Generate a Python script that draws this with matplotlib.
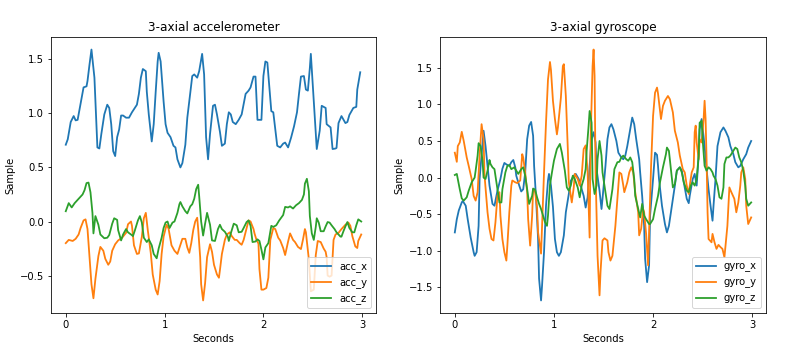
import matplotlib
matplotlib.use("Agg")
import matplotlib.pyplot as plt

# ---------------- accelerometer ----------------
acc_x_t = [0.00,0.02,0.05,0.08,0.10,0.12,0.14,0.17,0.18,0.21,0.22,0.24,0.26,0.29,0.32,0.34,0.36,0.39,0.42,0.44,
           0.46,0.48,0.50,0.52,0.54,0.56,0.58,0.61,0.64,0.67,0.72,0.74,0.76,0.78,0.81,0.82,0.84,0.87,0.89,0.91,
           0.93,0.94,0.96,0.99,1.01,1.03,1.06,1.09,1.11,1.13,1.16,1.18,1.21,1.23,1.26,1.28,1.30,1.33,1.35,1.38,
           1.40,1.42,1.44,1.46,1.49,1.51,1.53,1.56,1.58,1.61,1.63,1.65,1.67,1.69,1.72,1.75,1.78,1.82,1.85,1.87,
           1.90,1.92,1.94,1.98,2.00,2.02,2.04,2.08,2.10,2.14,2.17,2.20,2.22,2.25,2.28,2.31,2.34,2.36,2.38,2.41,
           2.43,2.45,2.47,2.48,2.51,2.54,2.57,2.59,2.63,2.64,2.68,2.70,2.73,2.74,2.76,2.79,2.83,2.85,2.87,2.91,
           2.94,2.95,2.98]
acc_x_v = [0.71,0.76,0.92,0.975,0.935,0.94,1.04,1.19,1.24,1.25,1.30,1.45,1.59,1.33,0.685,0.675,0.81,0.99,1.08,1.05,
           0.90,0.65,0.605,0.78,0.85,0.98,0.98,0.96,0.96,1.01,1.08,1.18,1.33,1.41,1.39,1.20,0.99,0.74,0.90,1.20,
           1.48,1.56,1.48,1.11,0.90,0.82,0.78,0.70,0.685,0.575,0.50,0.54,0.71,0.96,1.19,1.345,1.36,1.33,1.39,1.55,
           1.36,0.78,0.575,0.81,1.07,1.08,0.99,0.83,0.70,0.72,0.90,1.01,0.99,0.92,0.90,0.94,0.99,1.18,1.21,1.24,
           1.34,1.34,0.94,0.94,1.345,1.48,1.47,1.02,1.01,0.70,0.685,0.72,0.73,0.685,0.775,0.88,1.01,1.18,1.34,1.345,
           1.22,1.21,1.42,1.55,1.11,0.67,0.84,1.07,1.05,0.90,0.87,0.67,0.675,0.68,0.91,0.975,0.91,0.92,0.985,1.05,
           1.06,1.22,1.38]

acc_y_t = [0.00,0.03,0.07,0.10,0.13,0.15,0.18,0.20,0.22,0.24,0.26,0.28,0.30,0.33,0.35,0.38,0.40,0.43,0.45,0.47,
           0.50,0.53,0.57,0.61,0.63,0.66,0.67,0.69,0.72,0.74,0.77,0.79,0.81,0.83,0.86,0.88,0.91,0.93,0.95,0.97,
           0.99,1.02,1.04,1.07,1.10,1.13,1.15,1.18,1.21,1.23,1.25,1.27,1.29,1.31,1.33,1.34,1.36,1.37,1.39,1.41,
           1.43,1.46,1.48,1.50,1.53,1.55,1.56,1.58,1.61,1.63,1.66,1.68,1.71,1.73,1.76,1.78,1.80,1.83,1.85,1.87,
           1.90,1.91,1.93,1.95,1.96,1.98,2.00,2.03,2.05,2.07,2.10,2.12,2.15,2.17,2.20,2.22,2.25,2.27,2.30,2.32,
           2.35,2.38,2.40,2.42,2.43,2.46,2.48,2.51,2.53,2.55,2.58,2.61,2.63,2.64,2.65,2.67,2.69,2.71,2.73,2.76,
           2.79,2.83,2.86,2.88,2.90,2.93,2.95,2.96,2.99]
acc_y_v = [-0.20,-0.17,-0.18,-0.16,-0.12,-0.06,0.01,0.02,-0.07,-0.33,-0.58,-0.71,-0.53,-0.32,-0.235,-0.27,-0.345,-0.40,-0.37,-0.27,
           -0.21,-0.175,-0.15,-0.105,-0.025,0.00,-0.04,-0.22,-0.30,-0.295,-0.14,0.03,0.08,-0.08,-0.29,-0.49,-0.63,-0.675,-0.55,-0.30,
           -0.14,-0.03,-0.065,-0.22,-0.27,-0.30,-0.245,-0.16,-0.16,-0.24,-0.29,-0.20,-0.08,0.00,0.035,-0.07,-0.33,-0.58,-0.73,-0.57,
           -0.33,-0.21,-0.28,-0.40,-0.49,-0.52,-0.45,-0.30,-0.17,-0.12,-0.10,-0.135,-0.17,-0.17,-0.20,-0.215,-0.17,-0.06,0.01,0.00,
           -0.07,-0.11,-0.17,-0.205,-0.44,-0.63,-0.63,-0.615,-0.52,-0.17,-0.06,-0.07,-0.15,-0.175,-0.245,-0.31,-0.185,-0.11,-0.17,-0.19,
           -0.235,-0.255,-0.17,-0.07,-0.10,-0.35,-0.645,-0.63,-0.31,-0.18,-0.19,-0.25,-0.28,-0.33,-0.50,-0.51,-0.50,-0.17,-0.12,-0.105,
           -0.07,-0.03,-0.01,-0.04,-0.135,-0.23,-0.245,-0.18,-0.12]

acc_z_t = [0.00,0.03,0.06,0.09,0.13,0.17,0.19,0.21,0.23,0.25,0.27,0.28,0.30,0.33,0.35,0.39,0.42,0.44,0.47,0.49,
           0.52,0.53,0.56,0.58,0.61,0.63,0.66,0.68,0.70,0.73,0.75,0.77,0.79,0.82,0.84,0.87,0.89,0.92,0.94,0.97,
           0.99,1.01,1.03,1.05,1.08,1.10,1.13,1.15,1.16,1.18,1.21,1.23,1.26,1.28,1.30,1.32,1.34,1.35,1.37,1.39,
           1.41,1.43,1.46,1.48,1.51,1.54,1.56,1.58,1.61,1.64,1.65,1.67,1.70,1.73,1.75,1.78,1.80,1.83,1.85,1.87,
           1.89,1.92,1.94,1.96,1.98,2.00,2.02,2.05,2.08,2.10,2.13,2.16,2.20,2.22,2.25,2.27,2.30,2.33,2.36,2.39,
           2.41,2.42,2.44,2.46,2.47,2.49,2.51,2.53,2.54,2.56,2.58,2.61,2.63,2.65,2.67,2.69,2.72,2.74,2.78,2.79,
           2.81,2.83,2.85,2.87,2.90,2.92,2.94,2.96,2.99]
acc_z_v = [0.095,0.17,0.13,0.17,0.21,0.25,0.29,0.355,0.36,0.27,0.08,-0.11,0.05,-0.03,-0.12,-0.155,-0.15,-0.125,-0.02,0.03,
           0.015,-0.08,-0.175,-0.12,-0.07,-0.10,-0.12,-0.135,-0.08,0.01,0.05,-0.01,-0.15,-0.19,-0.165,-0.22,-0.30,-0.34,-0.25,-0.15,
           -0.06,-0.01,0.00,-0.06,-0.01,0.00,0.08,0.16,0.18,0.14,0.095,0.075,0.14,0.16,0.21,0.30,0.34,0.235,0.00,-0.13,
           -0.02,0.08,-0.03,-0.175,-0.18,-0.07,-0.03,-0.07,-0.095,-0.14,-0.18,-0.11,-0.02,-0.035,-0.10,-0.095,-0.06,-0.005,0.01,-0.04,
           -0.19,-0.185,-0.165,-0.18,-0.26,-0.35,-0.24,-0.20,-0.04,-0.05,-0.035,0.01,0.06,0.135,0.13,0.14,0.12,0.15,0.17,0.20,
           0.25,0.35,0.395,0.28,0.05,-0.11,-0.17,-0.05,0.03,-0.01,-0.09,-0.09,-0.045,-0.005,-0.01,-0.035,-0.07,-0.10,-0.14,-0.14,
           -0.09,-0.045,-0.005,-0.06,-0.10,-0.10,-0.035,0.02,0.00]

# ---------------- gyroscope ----------------
gyro_x_t = [0.00,0.02,0.04,0.07,0.08,0.11,0.13,0.16,0.19,0.20,0.22,0.24,0.25,0.28,0.29,0.31,0.33,0.35,0.38,0.40,
            0.43,0.46,0.48,0.50,0.52,0.55,0.57,0.59,0.61,0.62,0.65,0.67,0.69,0.71,0.73,0.75,0.77,0.79,0.80,0.82,
            0.84,0.85,0.87,0.88,0.90,0.92,0.94,0.95,0.97,0.99,1.01,1.03,1.05,1.07,1.10,1.12,1.15,1.17,1.20,1.22,
            1.25,1.27,1.30,1.32,1.34,1.36,1.38,1.40,1.42,1.43,1.46,1.48,1.49,1.52,1.54,1.56,1.58,1.60,1.63,1.65,
            1.68,1.70,1.72,1.74,1.77,1.79,1.81,1.83,1.86,1.87,1.89,1.91,1.92,1.94,1.96,1.97,2.00,2.02,2.04,2.05,
            2.06,2.09,2.12,2.14,2.16,2.19,2.22,2.24,2.27,2.29,2.31,2.34,2.36,2.37,2.40,2.42,2.44,2.46,2.47,2.49,
            2.50,2.52,2.54,2.56,2.58,2.60,2.61,2.63,2.65,2.68,2.71,2.73,2.76,2.78,2.81,2.83,2.86,2.88,2.91,2.94,
            2.96,2.99]
gyro_x_v = [-0.75,-0.57,-0.45,-0.34,-0.32,-0.385,-0.57,-0.82,-1.02,-1.07,-1.02,-0.66,-0.02,0.48,0.64,0.43,0.16,-0.11,-0.36,-0.385,
            -0.18,-0.02,0.12,0.20,0.18,0.16,0.21,0.24,0.14,0.025,-0.11,-0.19,-0.16,0.07,0.525,0.71,0.76,0.57,0.16,-0.29,
            -0.84,-1.38,-1.68,-1.48,-1.02,-0.385,-0.04,0.05,-0.11,-0.40,-0.84,-1.02,-1.07,-1.02,-0.79,-0.475,-0.225,-0.045,0.025,0.05,
            -0.02,-0.11,-0.25,-0.41,-0.27,0.16,0.525,0.62,0.48,0.115,-0.18,-0.43,-0.29,0.16,0.525,0.685,0.73,0.66,0.50,0.34,
            0.275,0.25,0.30,0.43,0.66,0.82,0.73,0.525,0.25,0.07,-0.25,-0.66,-1.11,-1.43,-1.20,-0.52,-0.02,0.34,0.31,0.16,
            -0.02,-0.385,-0.635,-0.75,-0.66,-0.385,-0.11,0.095,0.14,0.095,-0.065,-0.29,-0.35,-0.25,-0.02,0.05,-0.11,0.30,0.66,0.80,
            0.685,0.43,0.115,-0.16,-0.385,-0.59,-0.385,-0.02,0.43,0.62,0.685,0.64,0.55,0.43,0.32,0.21,0.14,0.16,0.25,0.32,
            0.41,0.50]

gyro_y_t = [0.00,0.02,0.03,0.05,0.07,0.09,0.12,0.14,0.17,0.19,0.21,0.23,0.25,0.27,0.29,0.30,0.33,0.35,0.37,0.39,
            0.41,0.43,0.45,0.46,0.48,0.50,0.52,0.53,0.55,0.57,0.58,0.61,0.63,0.66,0.68,0.69,0.71,0.73,0.74,0.76,
            0.78,0.79,0.81,0.83,0.84,0.87,0.88,0.90,0.92,0.94,0.96,0.97,0.99,1.01,1.03,1.04,1.07,1.09,1.10,1.12,
            1.14,1.15,1.18,1.20,1.21,1.24,1.26,1.28,1.30,1.32,1.34,1.36,1.37,1.39,1.40,1.41,1.42,1.44,1.46,1.47,
            1.49,1.51,1.54,1.55,1.57,1.59,1.60,1.62,1.64,1.66,1.68,1.70,1.71,1.74,1.76,1.78,1.80,1.82,1.85,1.86,
            1.88,1.90,1.91,1.93,1.95,1.96,1.98,2.00,2.02,2.04,2.05,2.06,2.08,2.10,2.12,2.15,2.17,2.20,2.22,2.25,
            2.27,2.30,2.32,2.34,2.36,2.37,2.39,2.41,2.42,2.43,2.44,2.46,2.47,2.49,2.51,2.52,2.53,2.54,2.55,2.56,
            2.59,2.60,2.62,2.64,2.66,2.68,2.70,2.72,2.73,2.75,2.77,2.79,2.82,2.84,2.86,2.88,2.89,2.91,2.93,2.94,
            2.96,2.99]
gyro_y_v = [0.34,0.215,0.43,0.48,0.625,0.50,0.275,0.16,-0.02,-0.25,-0.315,-0.20,0.30,0.73,0.525,0.025,-0.475,-0.70,-0.84,-0.86,
            -0.61,-0.25,-0.20,-0.52,-0.84,-1.02,-1.135,-0.93,-0.475,-0.11,-0.04,-0.065,-0.075,-0.04,0.32,0.275,0.07,-0.20,-0.57,-0.93,
            -0.52,-0.16,-0.20,-0.41,-0.75,-1.04,-0.66,0.07,0.75,1.34,1.58,1.47,1.05,0.80,0.59,0.685,1.09,1.525,1.55,1.115,
            0.39,-0.065,-0.34,-0.135,0.05,-0.02,-0.11,0.025,0.39,0.44,0.07,-0.82,0.525,1.525,1.75,1.39,0.07,-1.07,-1.61,-1.29,
            -0.86,-0.83,-0.86,-1.02,-1.135,-1.07,-0.93,-0.66,-0.29,0.07,0.05,-0.11,-0.20,-0.065,0.07,0.14,0.07,-0.20,-0.475,-0.79,
            -0.70,-0.43,-0.475,-0.77,-1.20,-0.75,0.16,0.84,1.16,1.23,1.15,1.03,0.80,0.98,1.05,1.115,1.07,0.89,0.64,0.48,
            0.30,0.115,0.07,-0.11,-0.225,-0.11,0.07,0.14,0.62,0.71,0.48,0.25,0.525,0.48,0.80,1.05,0.80,0.25,-0.475,-0.84,
            -0.885,-0.77,-0.885,-0.975,-0.92,-0.95,-0.975,-1.09,-0.95,-0.66,-0.135,-0.20,-0.29,-0.475,-0.34,-0.11,0.07,0.14,-0.02,-0.385,
            -0.635,-0.545]

gyro_z_t = [0.00,0.02,0.03,0.05,0.07,0.09,0.12,0.14,0.17,0.20,0.21,0.23,0.24,0.26,0.28,0.29,0.31,0.33,0.35,0.36,
            0.38,0.40,0.41,0.43,0.45,0.47,0.48,0.51,0.53,0.55,0.57,0.60,0.62,0.64,0.67,0.69,0.71,0.73,0.75,0.78,
            0.79,0.81,0.83,0.85,0.87,0.89,0.91,0.93,0.94,0.96,0.98,1.00,1.03,1.06,1.08,1.11,1.13,1.15,1.17,1.19,
            1.21,1.24,1.26,1.28,1.30,1.32,1.33,1.35,1.36,1.38,1.39,1.41,1.43,1.44,1.46,1.48,1.49,1.52,1.54,1.56,
            1.59,1.61,1.64,1.66,1.68,1.70,1.73,1.75,1.77,1.79,1.81,1.82,1.85,1.87,1.89,1.91,1.93,1.96,1.97,2.00,
            2.02,2.05,2.07,2.10,2.13,2.14,2.16,2.18,2.20,2.22,2.24,2.27,2.29,2.31,2.34,2.36,2.38,2.40,2.42,2.44,
            2.46,2.47,2.49,2.50,2.52,2.54,2.56,2.58,2.60,2.61,2.63,2.65,2.67,2.69,2.71,2.72,2.74,2.76,2.78,2.81,
            2.83,2.85,2.87,2.89,2.91,2.93,2.94,2.96,2.99]
gyro_z_v = [0.035,0.05,-0.02,-0.16,-0.285,-0.315,-0.27,-0.18,-0.065,0.00,0.095,0.30,0.47,0.43,0.23,0.00,-0.02,0.095,0.24,0.185,
            0.14,0.115,0.025,-0.16,-0.34,-0.34,-0.16,0.07,0.16,0.17,0.115,0.14,0.095,0.05,0.115,0.14,0.025,-0.16,-0.36,-0.25,
            -0.15,-0.165,-0.27,-0.36,-0.43,-0.52,-0.61,-0.66,-0.52,-0.10,0.07,0.23,0.39,0.46,0.34,0.095,-0.135,-0.18,-0.11,0.025,
            -0.02,-0.135,-0.27,-0.11,-0.02,0.115,0.365,0.71,0.91,0.75,-0.02,-0.225,-0.11,0.25,0.50,0.30,0.07,-0.20,-0.385,-0.43,
            -0.16,0.115,0.21,0.215,0.275,0.30,0.25,0.23,0.275,0.21,-0.02,-0.25,-0.43,-0.545,-0.36,-0.52,-0.57,-0.635,-0.635,-0.57,
            -0.43,-0.25,-0.065,0.14,0.32,0.41,0.365,0.115,-0.135,-0.09,0.095,0.14,0.07,-0.065,-0.18,-0.20,-0.11,-0.065,-0.11,-0.02,
            0.30,0.75,0.775,0.525,0.16,0.095,0.14,0.115,0.07,0.025,-0.02,-0.11,-0.27,-0.29,-0.135,0.185,0.275,0.275,0.30,0.365,
            0.41,0.39,0.275,0.21,0.095,-0.11,-0.29,-0.385,-0.34]

titles = ["3-axial accelerometer", "3-axial gyroscope"]
acc_labels = ["acc_x", "acc_y", "acc_z"]
gyro_labels = ["gyro_x", "gyro_y", "gyro_z"]

W, H = 793, 361
fig = plt.figure(figsize=(W / 72, H / 72), dpi=72)
ax1 = fig.add_axes([51 / W, 1 - 313 / H, 325 / W, 276 / H])
ax2 = fig.add_axes([440 / W, 1 - 313 / H, 326 / W, 276 / H])

lw = 1.8
ax1.plot(acc_x_t, acc_x_v, label=acc_labels[0], lw=lw)
ax1.plot(acc_y_t, acc_y_v, label=acc_labels[1], lw=lw)
ax1.plot(acc_z_t, acc_z_v, label=acc_labels[2], lw=lw)
ax2.plot(gyro_x_t, gyro_x_v, label=gyro_labels[0], lw=lw)
ax2.plot(gyro_y_t, gyro_y_v, label=gyro_labels[1], lw=lw)
ax2.plot(gyro_z_t, gyro_z_v, label=gyro_labels[2], lw=lw)

for ax, title in zip((ax1, ax2), titles):
    ax.set_title(title)
    ax.set_xlabel("Seconds")
    ax.set_ylabel("Sample")
    ax.set_xticks([0, 1, 2, 3])
    ax.legend(loc="lower right")
ax1.set_yticks([-0.5, 0.0, 0.5, 1.0, 1.5])
ax2.set_yticks([-1.5, -1.0, -0.5, 0.0, 0.5, 1.0, 1.5])

fig.savefig("out.png", dpi=72)
